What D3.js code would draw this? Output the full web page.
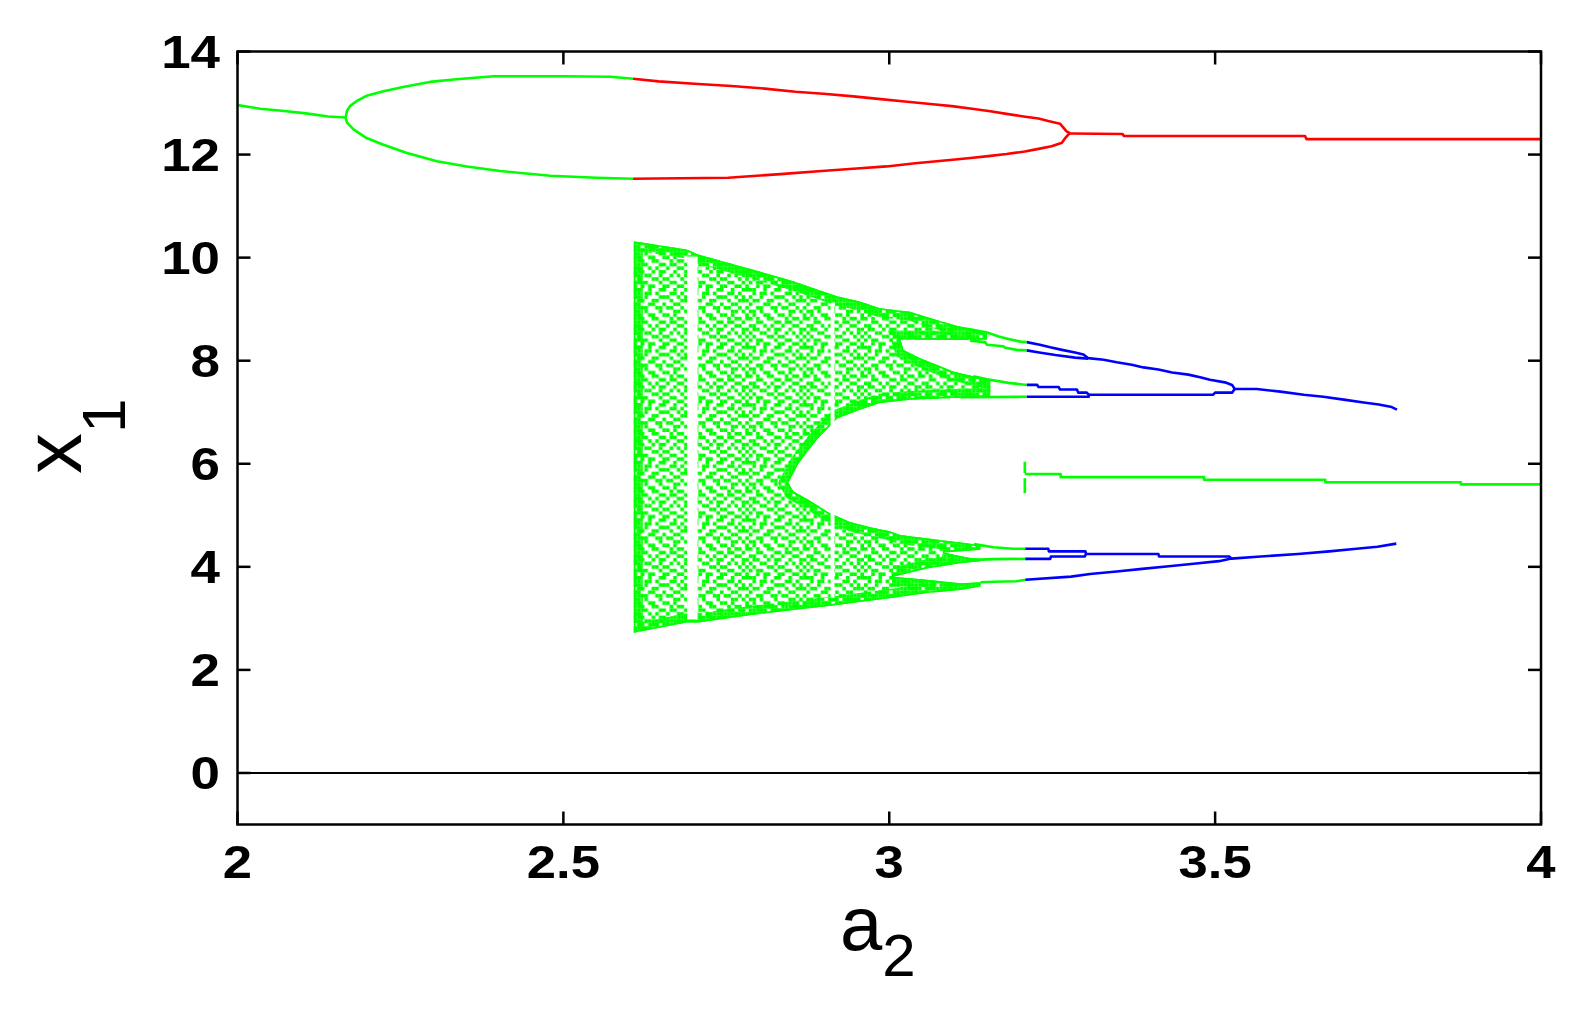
<!DOCTYPE html>
<html><head><meta charset="utf-8">
<script src="https://cdn.jsdelivr.net/npm/d3@7/dist/d3.min.js"></script>
<style>html,body{margin:0;padding:0;background:#fff;} svg{display:block}</style>
</head><body>
<svg id="chart" width="1578" height="1010"></svg>
<script>
// ---------- data (a2, x1) ----------
const xTicks = [2, 2.5, 3, 3.5, 4];
const xTickLabels = ["2", "2.5", "3", "3.5", "4"];
const yTicks = [0, 2, 4, 6, 8, 10, 12, 14];
const yTickLabels = ["0", "2", "4", "6", "8", "10", "12", "14"];

const zeroLine = [[2, 0], [4, 0]];

const period1Green = [[2,12.96],[2.035,12.89],[2.068,12.85],[2.105,12.80],[2.139,12.74],[2.166,12.72]];
const period2UpperGreen = [[2.166,12.72],[2.168,12.85],[2.1726,12.94],[2.183,13.04],[2.198,13.14],[2.224,13.23],[2.254,13.31],[2.295,13.41],[2.336,13.46],[2.393,13.52],[2.50,13.52],[2.572,13.51],[2.607,13.47]];
const period2LowerGreen = [[2.166,12.72],[2.168,12.62],[2.178,12.49],[2.198,12.32],[2.224,12.19],[2.260,12.03],[2.306,11.87],[2.352,11.77],[2.403,11.68],[2.480,11.59],[2.551,11.55],[2.607,11.53]];
const redUpper = [[2.607,13.47],[2.646,13.42],[2.707,13.37],[2.758,13.33],[2.809,13.28],[2.856,13.22],[2.899,13.18],[2.945,13.13],[2.983,13.08],[3.024,13.03],[3.063,12.98],[3.096,12.94],[3.127,12.89],[3.155,12.84],[3.180,12.79],[3.206,12.74],[3.229,12.70],[3.244,12.65],[3.262,12.60],[3.272,12.45],[3.278,12.41]];
const redLower = [[2.607,11.53],[2.753,11.55],[2.833,11.62],[2.896,11.68],[2.950,11.73],[2.996,11.77],[3.040,11.83],[3.081,11.88],[3.121,11.93],[3.152,11.97],[3.180,12.01],[3.208,12.06],[3.229,12.11],[3.249,12.16],[3.265,12.23],[3.270,12.32],[3.275,12.39],[3.278,12.41]];
const redMerged = [[3.278,12.41],[3.358,12.40],[3.36,12.36],[3.638,12.36],[3.64,12.30],[4,12.30]];

// chaotic band outline (upper edge, sub-band gaps, inner hollow, lower edge)
const chaosOutline = [
  [2.608,10.32],[2.689,10.16],[2.707,10.06],[2.79,9.77],[2.853,9.54],[2.92,9.25],[2.955,9.15],[2.986,9.02],[3.032,8.95],[3.065,8.82],[3.098,8.70],[3.124,8.61],[3.15,8.52],
  [3.15,8.41],[3.10,8.40],[3.017,8.41],
  [3.022,8.21],[3.047,8.05],[3.073,7.92],[3.098,7.79],[3.129,7.70],[3.155,7.62],
  [3.155,7.30],[3.109,7.28],[3.032,7.24],[2.986,7.18],
  [2.955,7.05],[2.92,6.88],[2.889,6.47],[2.861,6.01],[2.845,5.63],
  [2.853,5.46],[2.876,5.30],[2.909,5.04],[2.94,4.87],[2.971,4.77],[3.001,4.69],[3.017,4.62],[3.078,4.52],[3.119,4.46],[3.14,4.42],
  [3.14,4.33],[3.12,4.31],[3.083,4.28],[3.12,4.18],[3.14,4.15],
  [3.14,4.11],[3.109,4.07],[3.058,3.97],[3.006,3.81],
  [3.058,3.75],[3.109,3.68],[3.14,3.70],
  [3.14,3.62],[3.109,3.55],[3.058,3.49],[3.006,3.40],[2.955,3.32],[2.92,3.26],[2.853,3.16],[2.791,3.07],[2.707,2.92],[2.689,2.92],[2.608,2.72]
];
// periodic windows inside the chaotic band: [a from, a to, x1 low, x1 high]
const windows = [[2.690, 2.706, 2.98, 10.02], [2.910, 2.916, 3.40, 9.12]];

const greenA = [[3.093,8.67],[3.124,8.61],[3.152,8.54],[3.168,8.47],[3.183,8.42],[3.201,8.37],[3.211,8.36]];
const greenB = [[3.124,8.39],[3.147,8.36],[3.150,8.31],[3.175,8.28],[3.178,8.25],[3.196,8.21],[3.211,8.20]];
const greenC = [[3.129,7.70],[3.150,7.64],[3.183,7.57],[3.211,7.53]];
const greenD = [[3.109,7.29],[3.211,7.30]];
const greenE = [[3.13,4.44],[3.16,4.38],[3.19,4.35],[3.211,4.35]];
const greenF = [[3.12,4.13],[3.16,4.15],[3.211,4.155]];
const greenG = [[3.14,3.70],[3.16,3.71],[3.195,3.72],[3.205,3.74],[3.211,3.75]];

const blueA = [[3.211,8.36],[3.231,8.31],[3.247,8.26],[3.265,8.21],[3.285,8.16],[3.298,8.12],[3.305,8.05],[3.329,8.02],[3.349,7.97],[3.372,7.92],[3.390,7.87],[3.413,7.83],[3.434,7.77],[3.459,7.73],[3.477,7.68],[3.492,7.63],[3.515,7.58],[3.526,7.53],[3.530,7.45],[3.564,7.45],[3.600,7.40],[3.636,7.34],[3.666,7.30],[3.700,7.24],[3.728,7.19],[3.751,7.15],[3.771,7.10],[3.779,7.05]];
const blueB = [[3.211,8.20],[3.23,8.16],[3.255,8.11],[3.285,8.06],[3.305,8.04]];
const blueC = [[3.211,7.53],[3.227,7.53],[3.229,7.49],[3.260,7.49],[3.262,7.44],[3.288,7.44],[3.290,7.38],[3.303,7.38],[3.306,7.34]];
const blueD = [[3.211,7.30],[3.306,7.30],[3.306,7.34],[3.497,7.34],[3.500,7.38],[3.526,7.38],[3.530,7.45]];
const blueE = [[3.209,4.35],[3.244,4.35],[3.245,4.30],[3.301,4.30],[3.302,4.25],[3.413,4.25],[3.414,4.20],[3.522,4.20],[3.525,4.16]];
const blueF = [[3.209,4.155],[3.247,4.155],[3.248,4.20],[3.300,4.20],[3.302,4.25]];
const blueG = [[3.209,3.75],[3.279,3.81],[3.308,3.86],[3.349,3.91],[3.388,3.96],[3.429,4.01],[3.467,4.06],[3.506,4.11],[3.525,4.16],[3.570,4.20],[3.627,4.25],[3.675,4.30],[3.717,4.35],[3.749,4.39],[3.778,4.45]];

const greenMid = [[3.208,5.80],[3.263,5.80],[3.263,5.74],[3.483,5.74],[3.483,5.69],[3.669,5.69],[3.669,5.64],[3.877,5.64],[3.877,5.60],[4.0,5.60]];
const greenTickTop = [[3.208,6.04],[3.208,5.82]];
const greenTickBottom = [[3.208,5.72],[3.208,5.43]];

// ---------- style ----------
const GREEN = "#00ff00", RED = "#ff0000", BLUE = "#0000ff";
// speckle texture masks for the chaotic band (visual texture only)
const sparseMask = [
  "1100100110010011","0101101000110100","1001000111001010","0110011000100111",
  "1000110010011000","0011001101100101","1101000100011010","0100110011010001",
  "1010011000101101","0011000110110010","1100101001001100","0110010110010011",
  "1001100100101010","0100011011000101","1011000100110010","0010110011001101"];
const denseMask = [
  "1110111011101111","1011110111011011","1111011101111101","0111101111011110",
  "1101111011110111","1110110111011011","1011101110111110","1111011011101101",
  "0111111101011111","1101101111110110","1110110110111011","1011111011101111",
  "1111011111011101","0110111011111110","1111101101101011","1011011111110111"];

const svg = d3.select("#chart");
const x = d3.scaleLinear().domain([2, 4]).range([237.5, 1541]);
const y = d3.scaleLinear().domain([-1, 14]).range([824.5, 51.5]);
const line = d3.line().x(d => x(d[0])).y(d => y(d[1]));

const defs = svg.append("defs");
function makePattern(id, mask) {
  const cell = 3.6, n = mask.length;
  const p = defs.append("pattern").attr("id", id).attr("patternUnits", "userSpaceOnUse")
    .attr("width", cell * n).attr("height", cell * n);
  mask.forEach((row, r) => row.split("").forEach((c, k) => {
    if (c === "1") p.append("rect").attr("x", k * cell).attr("y", r * cell).attr("width", cell).attr("height", cell).attr("fill", GREEN);
  }));
}
makePattern("sparse", sparseMask);
makePattern("dense", denseMask);
defs.append("clipPath").attr("id", "chaosClip").append("path").attr("d", line(chaosOutline) + "Z");
defs.append("clipPath").attr("id", "plotClip").append("rect")
  .attr("x", x(2)).attr("y", y(14)).attr("width", x(4) - x(2)).attr("height", y(-1) - y(14));

const plot = svg.append("g").attr("clip-path", "url(#plotClip)");

plot.append("path").attr("d", line(zeroLine)).attr("stroke", "#000").attr("stroke-width", 2).attr("fill", "none");

// chaotic band
const chaos = plot.append("g").attr("clip-path", "url(#chaosClip)");
chaos.append("path").attr("d", line(chaosOutline) + "Z").attr("fill", "url(#sparse)");
chaos.append("path").attr("d", line(chaosOutline) + "Z").attr("fill", "none").attr("stroke", "url(#dense)").attr("stroke-width", 18);
chaos.append("path").attr("d", line(chaosOutline) + "Z").attr("fill", "none").attr("stroke", GREEN).attr("stroke-width", 3.5);
plot.selectAll("rect.win").data(windows).join("rect").attr("class", "win")
  .attr("x", d => x(d[0])).attr("width", d => x(d[1]) - x(d[0]))
  .attr("y", d => y(d[3])).attr("height", d => y(d[2]) - y(d[3])).attr("fill", "#fff");

function draw(data, color, w) {
  plot.append("path").attr("d", line(data)).attr("stroke", color).attr("stroke-width", w || 2.6)
    .attr("fill", "none").attr("stroke-linejoin", "round");
}
[period1Green, period2UpperGreen, period2LowerGreen, greenA, greenB, greenC, greenD, greenE, greenF, greenG, greenMid, greenTickTop, greenTickBottom]
  .forEach(d => draw(d, GREEN));
[redUpper, redLower, redMerged].forEach(d => draw(d, RED));
[blueA, blueB, blueC, blueD, blueE, blueF, blueG].forEach(d => draw(d, BLUE));

// frame and ticks
const axes = svg.append("g");
axes.append("rect").attr("x", x(2)).attr("y", y(14)).attr("width", x(4) - x(2)).attr("height", y(-1) - y(14))
  .attr("fill", "none").attr("stroke", "#000").attr("stroke-width", 2.5);
const TL = 13;
xTicks.forEach(t => {
  axes.append("line").attr("x1", x(t)).attr("x2", x(t)).attr("y1", y(-1)).attr("y2", y(-1) - TL).attr("stroke", "#000").attr("stroke-width", 2.5);
  axes.append("line").attr("x1", x(t)).attr("x2", x(t)).attr("y1", y(14)).attr("y2", y(14) + TL).attr("stroke", "#000").attr("stroke-width", 2.5);
});
yTicks.forEach(t => {
  axes.append("line").attr("x1", x(2)).attr("x2", x(2) + TL).attr("y1", y(t)).attr("y2", y(t)).attr("stroke", "#000").attr("stroke-width", 2.5);
  axes.append("line").attr("x1", x(4)).attr("x2", x(4) - TL).attr("y1", y(t)).attr("y2", y(t)).attr("stroke", "#000").attr("stroke-width", 2.5);
});

const FONT = "'Liberation Sans', Arial, Helvetica, sans-serif";
xTicks.forEach((t, i) => {
  svg.append("text").attr("transform", `translate(${x(t)},878) scale(1.12,1)`).attr("text-anchor", "middle")
    .attr("font-family", FONT).attr("font-weight", "bold").attr("font-size", 47).text(xTickLabels[i]);
});
yTicks.forEach((t, i) => {
  svg.append("text").attr("transform", `translate(220,${y(t) + 16.5}) scale(1.15,1)`).attr("text-anchor", "end")
    .attr("font-family", FONT).attr("font-weight", "bold").attr("font-size", 46).text(yTickLabels[i]);
});

// axis labels
const xl = svg.append("text").attr("x", 840).attr("y", 950).attr("font-family", FONT).attr("font-size", 76);
xl.append("tspan").text("a");
xl.append("tspan").attr("font-size", 60).attr("dy", 26).text("2");

const yl = svg.append("text").attr("transform", "translate(81,474) rotate(-90)").attr("font-family", FONT).attr("font-size", 82);
yl.append("tspan").text("x");
yl.append("tspan").attr("font-size", 62).attr("dy", 44).text("1");
</script>
</body></html>
